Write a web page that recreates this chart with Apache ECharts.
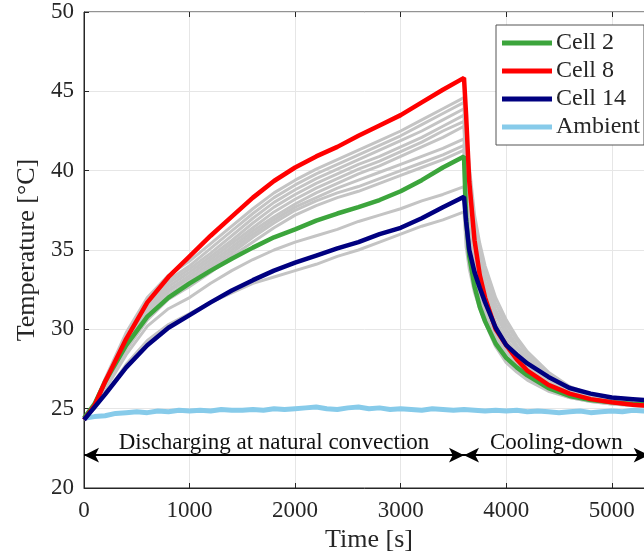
<!DOCTYPE html>
<html>
<head>
<meta charset="utf-8">
<script src="https://cdn.jsdelivr.net/npm/echarts@6/dist/echarts.min.js"></script>
<style>html,body{margin:0;padding:0;background:#fff}#c{width:644px;height:554px}</style>
</head>
<body>
<div id="c"></div>
<script>
// ---- data ----
const time = [0,100,200,400,600,800,1000,1200,1400,1600,1800,2000,2200,2400,2600,2800,3000,3200,3400,3600,
              3620,3650,3700,3750,3800,3900,4000,4100,4200,4400,4600,4800,5000,5200,5400];

const cell2  = [24.4,25.3,26.7,29.0,30.8,32.0,32.9,33.7,34.45,35.15,35.8,36.3,36.85,37.3,37.7,38.15,38.7,39.4,40.2,40.9,
                37.0,34.6,32.7,31.4,30.5,29.1,28.2,27.6,27.1,26.3,25.8,25.55,25.4,25.3,25.25];
const cell8  = [24.3,25.2,26.7,29.4,31.7,33.3,34.6,35.9,37.1,38.3,39.35,40.2,40.9,41.5,42.2,42.85,43.5,44.3,45.1,45.85,
                43.5,39.3,35.6,33.4,32.0,30.0,29.0,28.1,27.4,26.5,25.95,25.6,25.4,25.25,25.15];
const cell14 = [24.3,25.1,25.9,27.6,29.0,30.1,30.9,31.7,32.45,33.1,33.7,34.2,34.65,35.1,35.5,36.0,36.4,37.0,37.7,38.35,
                36.8,35.0,33.6,32.6,31.7,30.1,29.0,28.4,27.85,27.0,26.3,25.95,25.7,25.6,25.5];

const otherCells = [
  [24.4,25.3,26.9,29.8,32.0,33.4,34.3,35.4,36.5,37.6,38.6,39.4,40.1,40.7,41.3,41.9,42.5,43.2,43.9,44.6, 42.5,40.3,37.2,35.4,34.0,32.0,30.6,29.5,28.6,27.3,26.4,25.9,25.6,25.4,25.3],
  [24.4,25.3,26.8,29.6,31.8,33.1,34.0,35.1,36.2,37.3,38.3,39.1,39.8,40.4,41.0,41.6,42.2,42.9,43.6,44.3, 41.8,39.4,36.4,34.8,33.5,31.6,30.3,29.3,28.4,27.2,26.3,25.8,25.5,25.35,25.25],
  [24.4,25.2,26.7,29.4,31.6,32.9,33.8,34.8,35.9,37.0,38.0,38.8,39.5,40.1,40.7,41.3,41.9,42.5,43.2,43.9, 41.0,38.4,35.8,34.3,33.0,31.2,30.0,29.0,28.2,27.0,26.2,25.8,25.5,25.3,25.2],
  [24.4,25.2,26.6,29.3,31.4,32.7,33.6,34.6,35.6,36.7,37.7,38.5,39.2,39.8,40.4,40.9,41.5,42.1,42.8,43.5, 40.2,37.4,35.0,33.7,32.6,30.9,29.7,28.8,28.0,26.9,26.1,25.7,25.5,25.3,25.2],
  [24.4,25.2,26.5,29.2,31.2,32.5,33.4,34.4,35.4,36.4,37.4,38.2,38.9,39.5,40.1,40.6,41.2,41.8,42.5,43.1, 39.5,36.5,34.4,33.1,32.1,30.5,29.4,28.5,27.8,26.8,26.1,25.7,25.4,25.3,25.2],
  [24.4,25.2,26.5,29.1,31.1,32.4,33.2,34.2,35.2,36.2,37.1,37.9,38.6,39.2,39.8,40.3,40.9,41.5,42.1,42.8, 38.8,35.8,33.9,32.7,31.7,30.2,29.1,28.3,27.6,26.7,26.0,25.6,25.4,25.3,25.2],
  [24.4,25.1,26.4,28.9,30.9,32.2,33.0,34.0,35.0,36.0,36.9,37.7,38.3,38.9,39.4,39.9,40.4,40.9,41.4,42.0, 38.0,35.2,33.5,32.3,31.4,29.9,28.8,28.0,27.4,26.5,25.9,25.6,25.4,25.25,25.15],
  [24.4,25.1,26.4,28.8,30.8,32.0,32.9,33.8,34.8,35.8,36.7,37.5,38.1,38.6,39.0,39.5,40.0,40.5,41.0,41.6, 37.4,34.8,33.1,32.0,31.0,29.6,28.6,27.8,27.2,26.4,25.9,25.55,25.35,25.25,25.15],
  [24.4,25.1,26.3,28.7,30.6,31.9,32.7,33.6,34.6,35.5,36.4,37.2,37.8,38.3,38.7,39.2,39.7,40.2,40.7,41.3, 37.0,34.5,32.8,31.7,30.8,29.3,28.3,27.6,27.0,26.3,25.8,25.5,25.35,25.2,25.1],
  [24.4,25.1,26.2,28.4,30.2,31.3,32.0,32.9,33.7,34.4,35.0,35.5,35.9,36.3,36.8,37.2,37.6,38.1,38.5,39.0, 36.0,34.2,32.6,31.5,30.6,29.1,28.1,27.4,26.9,26.2,25.7,25.45,25.3,25.2,25.1],
  [24.4,25.0,25.9,27.8,29.3,30.3,31.0,31.7,32.3,32.9,33.3,33.7,34.1,34.6,35.0,35.5,36.0,36.5,36.9,37.4, 35.2,33.8,32.3,31.3,30.4,28.9,27.9,27.3,26.8,26.1,25.7,25.45,25.3,25.2,25.1]
];

const ambientTime = [0,100,200,300,400,500,600,700,800,900,1000,1100,1200,1300,1400,1500,1600,1700,1800,1900,2000,2100,2200,2300,2400,2500,2600,2700,2800,2900,3000,3100,3200,3300,3400,3500,3600,3700,3800,3900,4000,4100,4200,4300,4400,4500,4600,4700,4800,4900,5000,5100,5200,5300,5400];
const ambient = [24.4,24.5,24.55,24.7,24.75,24.8,24.75,24.85,24.8,24.9,24.85,24.9,24.85,24.95,24.9,24.9,24.95,24.9,25.0,24.95,25.0,25.05,25.1,25.0,24.95,25.05,25.1,25.0,25.05,24.95,25.0,24.95,24.9,25.0,24.95,24.9,24.95,24.9,24.85,24.9,24.85,24.9,24.8,24.85,24.8,24.75,24.8,24.85,24.75,24.8,24.85,24.8,24.9,24.85,24.9];

const xTicks = [0, 5400, 1000];   // min, max, interval
const yTicks = [20, 50, 5];
const phaseBounds = [0, 3600, 5350];
const arrowLevel = 22.07;
const phaseNames = ['Discharging at natural convection', 'Cooling-down'];

// ---- chart ----
const FONT = '"Liberation Serif", "DejaVu Serif", serif';
const TXT = '#262626';
const pair = (xs, ys) => xs.map((x, i) => [x, ys[i]]);

const series = [];
otherCells.forEach((vals, i) => {
  series.push({
    name: 'Other ' + (i + 1), type: 'line', data: pair(time, vals), showSymbol: false,
    lineStyle: { color: '#c4c4c4', width: 3 }, itemStyle: { color: '#c4c4c4' },
    z: 2, silent: true
  });
});
series.push({
  name: 'Ambient', type: 'line', data: pair(ambientTime, ambient), showSymbol: false,
  lineStyle: { color: '#87cbea', width: 5 }, itemStyle: { color: '#87cbea' }, z: 3
});
series.push({
  name: 'Cell 2', type: 'line', data: pair(time, cell2), showSymbol: false,
  lineStyle: { color: '#3ca53c', width: 4.5 }, itemStyle: { color: '#3ca53c' }, z: 4
});
series.push({
  name: 'Cell 8', type: 'line', data: pair(time, cell8), showSymbol: false,
  lineStyle: { color: '#ff0000', width: 4.5 }, itemStyle: { color: '#ff0000' }, z: 5
});
series.push({
  name: 'Cell 14', type: 'line', data: pair(time, cell14), showSymbol: false,
  lineStyle: { color: '#000080', width: 4.5 }, itemStyle: { color: '#000080' }, z: 6
});
// phase annotation arrows
series.push({
  name: 'phases', type: 'line', data: [], showSymbol: false, silent: true, z: 7,
  markLine: {
    silent: true, symbol: ['arrow', 'arrow'], symbolSize: [11, 15],
    lineStyle: { color: '#000', width: 2, type: 'solid' },
    label: {
      show: true, position: 'insideMiddleTop', distance: 1,
      fontFamily: FONT, fontSize: 23, color: '#111',
      formatter: p => p.name
    },
    emphasis: { disabled: true },
    data: [
      [{ name: phaseNames[0], coord: [phaseBounds[0], arrowLevel] }, { coord: [phaseBounds[1], arrowLevel] }],
      [{ name: phaseNames[1], coord: [phaseBounds[1], arrowLevel] }, { coord: [phaseBounds[2], arrowLevel] }]
    ]
  }
});

const chart = echarts.init(document.getElementById('c'), null, { renderer: 'canvas' });
chart.setOption({
  animation: false,
  backgroundColor: '#fff',
  grid: { left: 84, top: 12, right: -10, bottom: 66, show: true, borderColor: TXT, borderWidth: 1,
          backgroundColor: 'transparent', containLabel: false, outerBoundsMode: 'none' },
  legend: {
    data: ['Cell 2', 'Cell 8', 'Cell 14', 'Ambient'],
    orient: 'vertical', left: 496, top: 25,
    icon: 'rect', itemWidth: 50, itemHeight: 5, itemGap: 4,
    backgroundColor: '#fff', borderColor: '#555', borderWidth: 1, padding: [6, 4, 6, 6],
    textStyle: { fontFamily: FONT, fontSize: 24, color: TXT, padding: [0, 0, 0, -1] }
  },
  xAxis: [{
    type: 'value', min: xTicks[0], max: xTicks[1], interval: xTicks[2],
    name: 'Time [s]', nameLocation: 'middle', nameGap: 34,
    nameTextStyle: { fontFamily: FONT, fontSize: 26, color: TXT },
    axisLine: { show: true, lineStyle: { color: TXT, width: 1 } },
    axisTick: { show: true, inside: true, length: 5, lineStyle: { color: TXT } },
    axisLabel: { fontFamily: FONT, fontSize: 23, color: TXT, margin: 11, showMaxLabel: false, formatter: v => String(v) },
    splitLine: { show: true, lineStyle: { color: '#e6e6e6', width: 1 } }
  }, {
    type: 'value', position: 'top', min: xTicks[0], max: xTicks[1], interval: xTicks[2],
    axisLine: { show: false }, axisLabel: { show: false }, splitLine: { show: false },
    axisTick: { show: true, inside: true, length: 5, lineStyle: { color: TXT } }
  }],
  yAxis: [{
    type: 'value', min: yTicks[0], max: yTicks[1], interval: yTicks[2],
    name: 'Temperature [°C]', nameLocation: 'middle', nameGap: 41,
    nameTextStyle: { fontFamily: FONT, fontSize: 26, color: TXT },
    axisLine: { show: true, lineStyle: { color: TXT, width: 1 } },
    axisTick: { show: true, inside: true, length: 5, lineStyle: { color: TXT } },
    axisLabel: { fontFamily: FONT, fontSize: 23, color: TXT, margin: 10 },
    splitLine: { show: true, lineStyle: { color: '#e6e6e6', width: 1 } }
  }],
  series: series
});
</script>
</body>
</html>
